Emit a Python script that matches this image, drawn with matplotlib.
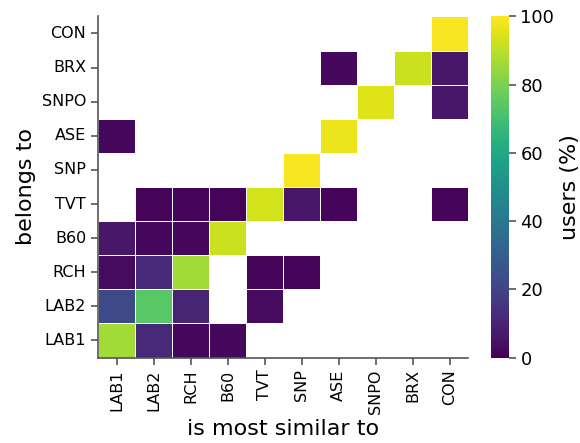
import numpy as np
import matplotlib
matplotlib.use("Agg")
import matplotlib.pyplot as plt
import seaborn as sns

cols = ["LAB1", "LAB2", "RCH", "B60", "TVT", "SNP", "ASE", "SNPO", "BRX", "CON"]
rows = ["CON", "BRX", "SNPO", "ASE", "SNP", "TVT", "B60", "RCH", "LAB2", "LAB1"]
nan = np.nan
values = [
    [nan, nan, nan, nan, nan, nan, nan, nan, nan, 99],   # CON
    [nan, nan, nan, nan, nan, nan, 2, nan, 92, 6],       # BRX
    [nan, nan, nan, nan, nan, nan, nan, 95, nan, 6],     # SNPO
    [2, nan, nan, nan, nan, nan, 97, nan, nan, nan],     # ASE
    [nan, nan, nan, nan, nan, 99, nan, nan, nan, nan],   # SNP
    [nan, 1, 1, 1, 93, 6, 1, nan, nan, 1],               # TVT
    [6, 2, 2, 92, nan, nan, nan, nan, nan, nan],         # B60
    [3, 12, 86, nan, 1, 1, nan, nan, nan, nan],          # RCH
    [22, 74, 10, nan, 3, nan, nan, nan, nan, nan],       # LAB2
    [86, 11, 2, 2, nan, nan, nan, nan, nan, nan],        # LAB1
]
data = np.array(values, dtype=float)

fig = plt.figure(figsize=(5.8, 4.43), dpi=100)
ax = fig.add_axes([0.169, 0.193, 0.638, 0.77])
cax = fig.add_axes([0.847, 0.193, 0.03, 0.77])
sns.heatmap(data, ax=ax, cbar_ax=cax, cmap="viridis", vmin=0, vmax=100,
            linewidths=0.5, linecolor="white",
            xticklabels=cols, yticklabels=rows,
            cbar_kws={"label": "users (%)"})
for s in ["left", "bottom"]:
    ax.spines[s].set_visible(True)
    ax.spines[s].set_color("#555555")
    ax.spines[s].set_linewidth(1.2)
ax.tick_params(axis="both", labelsize=11.5, length=5, width=1.2, color="#555555")
ax.set_xticklabels(cols, rotation=90)
ax.set_yticklabels(rows, rotation=0)
ax.set_xlabel("is most similar to", fontsize=16)
ax.set_ylabel("belongs to", fontsize=16)
cax.tick_params(labelsize=13, length=5, width=1.2, color="#555555")
cax.set_ylabel("users (%)", fontsize=16)
cax.set_yticks([0, 20, 40, 60, 80, 100])
fig.savefig("out.png", dpi=100)
